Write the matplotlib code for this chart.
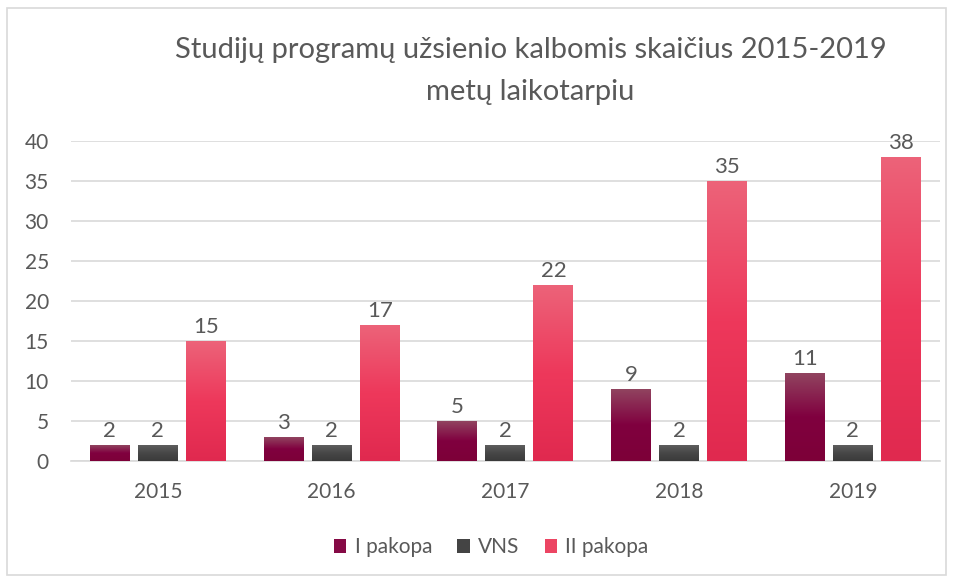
import numpy as np
import matplotlib.pyplot as plt
from matplotlib.colors import LinearSegmentedColormap
from matplotlib.patches import Rectangle, Patch

plt.rcParams['font.family'] = ['Lato', 'DejaVu Sans']

years = ['2015', '2016', '2017', '2018', '2019']
pirma = [2, 3, 5, 9, 11]
vns = [2, 2, 2, 2, 2]
antra = [15, 17, 22, 35, 38]
series_names = ['I pakopa', 'VNS', 'II pakopa']

# gradient spalvos (virsus, vidurys, apacia)
grads = [
    ['#914460', '#80003F', '#7D0038'],
    ['#5E5E5E', '#474747', '#3A3A3A'],
    ['#EC6379', '#EE385B', '#E0294F'],
]
legend_colors = ['#850A45', '#444444', '#EC4563']
text_col = '#595959'


def gradient_bar(ax, x, h, w, cols):
    """Nupiesia stulpeli su vertikaliu gradientu"""
    cmap = LinearSegmentedColormap.from_list('g', [(0, cols[2]), (0.5, cols[1]), (1, cols[0])])
    grad = np.linspace(0, 1, 256).reshape(-1, 1)
    im = ax.imshow(grad, extent=(x - w / 2, x + w / 2, 0, h), origin='lower',
                   cmap=cmap, aspect='auto', zorder=3, interpolation='bilinear')
    rect = Rectangle((x - w / 2, 0), w, h, transform=ax.transData, facecolor='none', edgecolor='none')
    ax.add_patch(rect)
    im.set_clip_path(rect)


fig = plt.figure(figsize=(9.54, 5.76), dpi=100)
ax = fig.add_axes([0.0744, 0.1997, 0.9106, 0.5555])

width = 0.23
offsets = [-0.2767, 0, 0.2767]
x = np.arange(len(years))
for s, vals in enumerate([pirma, vns, antra]):
    for i, v in enumerate(vals):
        xi = x[i] + offsets[s]
        gradient_bar(ax, xi, v, width, grads[s])
        ax.text(xi, v + 0.5, str(v), ha='center', va='bottom', fontsize=16, color=text_col, zorder=4)

ax.set_xlim(-0.5, len(years) - 0.5)
ax.set_ylim(0, 40)
ax.set_yticks(range(0, 41, 5))
ax.set_xticks(x)
ax.set_xticklabels(years)
ax.tick_params(axis='both', length=0, labelsize=15, colors=text_col)
ax.tick_params(axis='x', pad=15)
ax.tick_params(axis='y', pad=16)
ax.grid(axis='y', color='#D9D9D9', linewidth=1.2, zorder=0)
ax.set_axisbelow(True)
for sp in ['top', 'right', 'left']:
    ax.spines[sp].set_visible(False)
ax.spines['bottom'].set_color('#D9D9D9')
ax.spines['bottom'].set_linewidth(1.2)

fig.text(0.556, 0.913, 'Studijų programų užsienio kalbomis skaičius 2015-2019',
         ha='center', va='center', fontsize=21, color=text_col)
fig.text(0.556, 0.84, 'metų laikotarpiu', ha='center', va='center', fontsize=21, color=text_col)

handles = [Patch(facecolor=c, edgecolor='none') for c in legend_colors]
fig.legend(handles, series_names, loc='center', bbox_to_anchor=(0.515, 0.05), ncol=3,
           frameon=False, fontsize=15, labelcolor=text_col, handlelength=0.6, handleheight=0.7,
           handletextpad=0.4, columnspacing=1.2)

fig.patches.append(Rectangle((7 / 954, 0.002), 939 / 954, 1 - 8 / 576 - 0.002, transform=fig.transFigure,
                             fill=False, edgecolor='#D9D9D9', linewidth=1.2))

fig.savefig('out.png', dpi=100)
